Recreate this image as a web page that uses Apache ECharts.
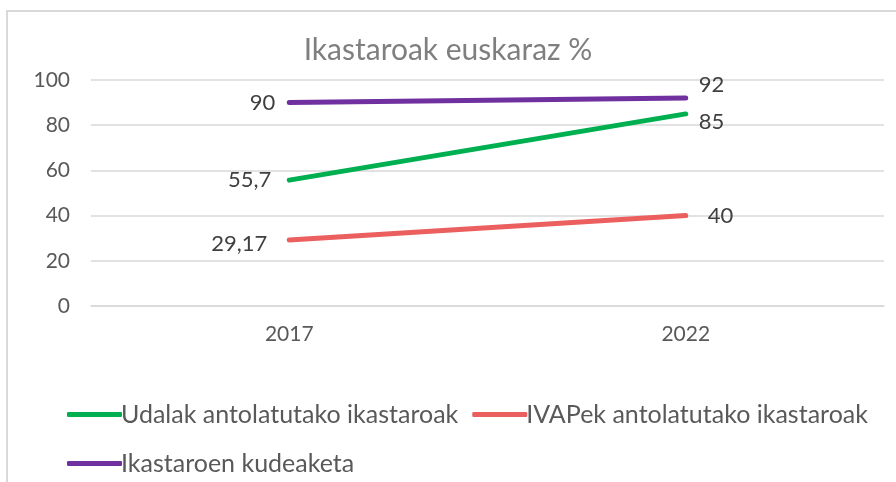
<!DOCTYPE html>
<html>
<head>
<meta charset="utf-8">
<script src="https://cdn.jsdelivr.net/npm/echarts@6/dist/echarts.min.js"></script>
<style>
  body { margin: 0; background: #fff; }
  #frame { position: absolute; left: 6px; top: 10px; width: 1000px; height: 600px; border: 2px solid #d9d9d9; }
  #chart { position: absolute; left: 0; top: 0; width: 896px; height: 482px; }
</style>
</head>
<body>
<div id="frame"></div>
<div id="chart"></div>
<script>
// Ikastaroak euskaraz %
const years = ['2017', '2022']
const udalak = [55.7, 85]
const ivap = [29.17, 40]
const kudeaketa = [90, 92]

const fontFam = 'Lato, "Open Sans", sans-serif'
const fmt = v => String(v).replace('.', ',')

// etiketen kokapena puntu bakoitzeko
const labelAt = (vals, cfgs) => vals.map((v, i) => ({
  value: v,
  label: Object.assign({
    show: true,
    formatter: p => fmt(p.value),
    color: '#404040',
    fontSize: 22,
    fontFamily: fontFam
  }, cfgs[i])
}))

const legendText = { color: '#595959', fontSize: 25, fontFamily: fontFam, padding: [0, 0, 0, -6] }

const chart = echarts.init(document.getElementById('chart'))

chart.setOption({
  animation: false,
  backgroundColor: 'transparent',
  title: {
    text: 'Ikastaroak euskaraz %',
    left: 'center',
    top: 30,
    textStyle: { color: '#7f7f7f', fontSize: 30, fontWeight: 'normal', fontFamily: fontFam }
  },
  grid: { left: 91, right: 12, top: 80, bottom: 176 },
  xAxis: {
    type: 'category',
    data: years,
    axisLine: { lineStyle: { color: '#d9d9d9', width: 1.5 } },
    axisTick: { show: false },
    axisLabel: { color: '#595959', fontSize: 21, fontFamily: fontFam, margin: 18 }
  },
  yAxis: {
    type: 'value',
    min: 0,
    max: 100,
    interval: 20,
    axisLine: { show: false },
    axisTick: { show: false },
    splitLine: { lineStyle: { color: '#d9d9d9', width: 1.5 } },
    axisLabel: { color: '#595959', fontSize: 21, fontFamily: fontFam, margin: 21 }
  },
  legend: [
    {
      data: ['Udalak antolatutako ikastaroak', 'IVAPek antolatutako ikastaroak'],
      left: 62,
      top: 397,
      icon: 'roundRect',
      itemWidth: 55,
      itemHeight: 5,
      itemGap: 14,
      textStyle: legendText
    },
    {
      data: ['Ikastaroen kudeaketa'],
      left: 62,
      top: 446,
      icon: 'roundRect',
      itemWidth: 55,
      itemHeight: 5,
      textStyle: legendText
    }
  ],
  series: [
    {
      name: 'Udalak antolatutako ikastaroak',
      type: 'line',
      data: labelAt(udalak, [
        { position: 'left', distance: 17 },
        { position: 'right', distance: 12, offset: [0, 8] }
      ]),
      showSymbol: true,
      symbolSize: 0.1,
      lineStyle: { color: '#00b050', width: 5, cap: 'round' },
      itemStyle: { color: '#00b050' }
    },
    {
      name: 'IVAPek antolatutako ikastaroak',
      type: 'line',
      data: labelAt(ivap, [
        { position: 'left', distance: 21, offset: [0, 4] },
        { position: 'right', distance: 21 }
      ]),
      showSymbol: true,
      symbolSize: 0.1,
      lineStyle: { color: '#eb5f5f', width: 5, cap: 'round' },
      itemStyle: { color: '#eb5f5f' }
    },
    {
      name: 'Ikastaroen kudeaketa',
      type: 'line',
      data: labelAt(kudeaketa, [
        { position: 'left', distance: 13 },
        { position: 'right', distance: 12, offset: [0, -13] }
      ]),
      showSymbol: true,
      symbolSize: 0.1,
      lineStyle: { color: '#7030a0', width: 5, cap: 'round' },
      itemStyle: { color: '#7030a0' }
    }
  ]
})
</script>
</body>
</html>
